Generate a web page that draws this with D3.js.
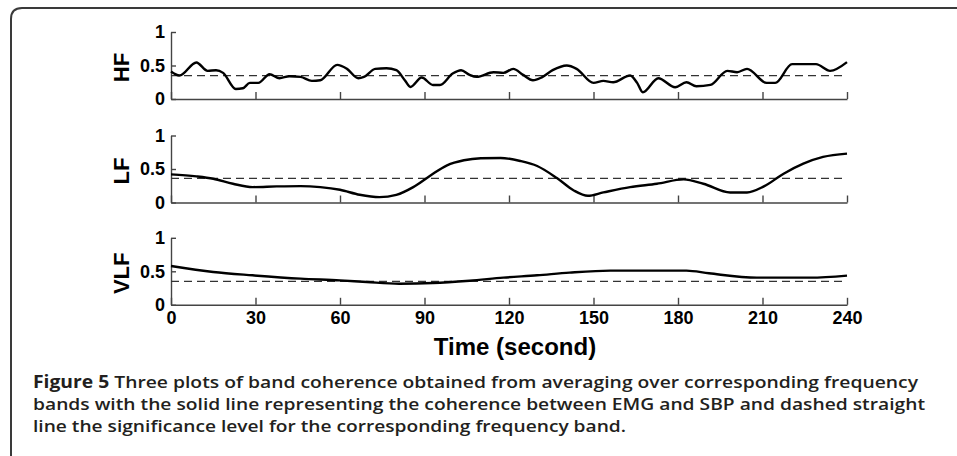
<!DOCTYPE html>
<html>
<head>
<meta charset="utf-8">
<script src="https://cdn.jsdelivr.net/npm/d3@7"></script>
<style>
  body { margin: 0; background: #fff; }
  svg { display: block; }
  .axis text { font-family: "Liberation Sans", Arial, sans-serif; font-weight: bold; font-size: 18px; fill: #000; }
  .axis path, .axis line { stroke: #444; stroke-width: 1.4; }
</style>
</head>
<body>
<div id="chart"></div>
<script>
// band coherence
var hfTime = [0, 3, 9, 13, 16, 18.5, 23, 25.5, 28, 31, 35, 38.5, 42, 46, 50, 53, 59, 62.5, 66.5, 68.5, 72.5, 76.5, 80, 83, 85, 89, 93, 95.5, 100, 103, 106, 108.5, 114.5, 118, 121.5, 125, 128.5, 131.5, 135.5, 140.5, 144, 150, 153.5, 157, 163, 165.5, 167.5, 173, 179, 183, 186.5, 191.5, 197.5, 201, 204.5, 211.5, 214.5, 220.5, 229, 234, 240];
var hfValue = [0.41, 0.35, 0.545, 0.42, 0.43, 0.39, 0.15, 0.16, 0.24, 0.24, 0.37, 0.31, 0.34, 0.33, 0.27, 0.28, 0.51, 0.45, 0.31, 0.33, 0.45, 0.46, 0.43, 0.28, 0.18, 0.32, 0.21, 0.21, 0.38, 0.43, 0.36, 0.33, 0.40, 0.39, 0.45, 0.36, 0.28, 0.32, 0.43, 0.50, 0.45, 0.24, 0.27, 0.25, 0.35, 0.24, 0.10, 0.31, 0.175, 0.25, 0.19, 0.21, 0.42, 0.40, 0.45, 0.24, 0.24, 0.52, 0.52, 0.42, 0.55];

var lfTime = [0, 9, 15, 22, 29, 37.5, 46, 53, 60, 67, 74, 80, 86, 92, 98, 104, 110, 117, 124, 130, 137, 143, 148, 153.5, 163, 172.5, 182, 189, 198.5, 204.5, 210.5, 217.5, 224.5, 231.5, 240];
var lfValue = [0.42, 0.39, 0.355, 0.28, 0.23, 0.24, 0.245, 0.23, 0.19, 0.115, 0.08, 0.115, 0.23, 0.40, 0.555, 0.63, 0.66, 0.665, 0.62, 0.545, 0.365, 0.18, 0.10, 0.15, 0.23, 0.28, 0.345, 0.28, 0.15, 0.15, 0.24, 0.43, 0.58, 0.68, 0.73];

var vlfTime = [0, 15, 29, 46, 60, 69.5, 81, 93, 106, 118, 130, 141.5, 156, 183, 191, 208, 227, 240];
var vlfValue = [0.58, 0.49, 0.44, 0.39, 0.365, 0.34, 0.315, 0.325, 0.36, 0.405, 0.44, 0.48, 0.51, 0.51, 0.47, 0.405, 0.405, 0.435];

var bandNames = ["HF", "LF", "VLF"];
var significance = [0.35, 0.36, 0.35];
var xTicks = [0, 30, 60, 90, 120, 150, 180, 210, 240];
var yTicks = [0, 0.5, 1];
var captionLines = [
  ["Figure 5", " Three plots of band coherence obtained from averaging over corresponding frequency"],
  ["", "bands with the solid line representing the coherence between EMG and SBP and dashed straight"],
  ["", "line the significance level for the corresponding frequency band."]
];

var width = 957, height = 456;
var svg = d3.select("#chart").append("svg")
    .attr("width", width)
    .attr("height", height);

// frame round the figure
svg.append("path")
    .attr("d", "M11,470 L11,19 Q11,8 22,8 L970,8")
    .attr("fill", "none")
    .attr("stroke", "#3a3a3a")
    .attr("stroke-width", 2);

var x = d3.scaleLinear().domain([0, 240]).range([171, 847]);
var panelTop = [32, 135.5, 237.8];
var panelH = 67;

var series = [
  { time: hfTime, value: hfValue },
  { time: lfTime, value: lfValue },
  { time: vlfTime, value: vlfValue }
];

series.forEach(function(s, i) {
  var y = d3.scaleLinear().domain([0, 1]).range([panelTop[i] + panelH, panelTop[i]]);
  var g = svg.append("g");

  g.append("g")
      .attr("class", "axis")
      .attr("transform", "translate(0," + (panelTop[i] + panelH) + ")")
      .call(d3.axisBottom(x).tickValues(xTicks).tickSizeInner(-7).tickSizeOuter(0).tickPadding(6)
        .tickFormat(i === 2 ? d3.format("d") : function() { return ""; }));

  g.append("g")
      .attr("class", "axis")
      .attr("transform", "translate(" + x(0) + ",0)")
      .call(d3.axisLeft(y).tickValues(yTicks).tickSizeInner(-5).tickSizeOuter(0).tickPadding(6)
        .tickFormat(function(d) { return d === 0.5 ? "0.5" : d; }));

  g.append("line")
      .attr("x1", x(0)).attr("x2", x(240))
      .attr("y1", y(significance[i])).attr("y2", y(significance[i]))
      .attr("stroke", "#333")
      .attr("stroke-width", 1.3)
      .attr("stroke-dasharray", "8,5");

  var pts = s.time.map(function(t, k) { return [t, s.value[k]]; });
  g.append("path")
      .datum(pts)
      .attr("fill", "none")
      .attr("stroke", "#000")
      .attr("stroke-width", 2.4)
      .attr("stroke-linejoin", "round")
      .attr("d", d3.line()
        .x(function(d) { return x(d[0]); })
        .y(function(d) { return y(d[1]); })
        .curve(d3.curveMonotoneX));

  g.append("text")
      .attr("transform", "translate(121," + (panelTop[i] + panelH / 2 + 2) + ") rotate(-90)")
      .attr("text-anchor", "middle")
      .attr("dominant-baseline", "central")
      .style("font-family", "'Liberation Sans', Arial, sans-serif")
      .style("font-weight", "bold")
      .style("font-size", "22px")
      .text(bandNames[i]);
});

svg.append("text")
    .attr("x", 515)
    .attr("y", 355)
    .attr("text-anchor", "middle")
    .style("font-family", "'Liberation Sans', Arial, sans-serif")
    .style("font-weight", "bold")
    .style("font-size", "24px")
    .text("Time (second)");

var captionEnds = [918, 925, 626];
var baselines = [388, 410, 432];
captionLines.forEach(function(line, i) {
  var t = svg.append("text")
      .attr("x", 33)
      .attr("y", baselines[i])
      .attr("textLength", captionEnds[i] - 33)
      .attr("lengthAdjust", "spacingAndGlyphs")
      .style("font-family", "'Open Sans', 'Noto Sans', sans-serif")
      .style("font-size", "17px")
      .style("fill", "#231f20");
  if (line[0]) t.append("tspan").style("font-weight", "bold").text(line[0]);
  t.append("tspan").style("font-weight", "600").text(line[1]);
});
</script>
</body>
</html>
